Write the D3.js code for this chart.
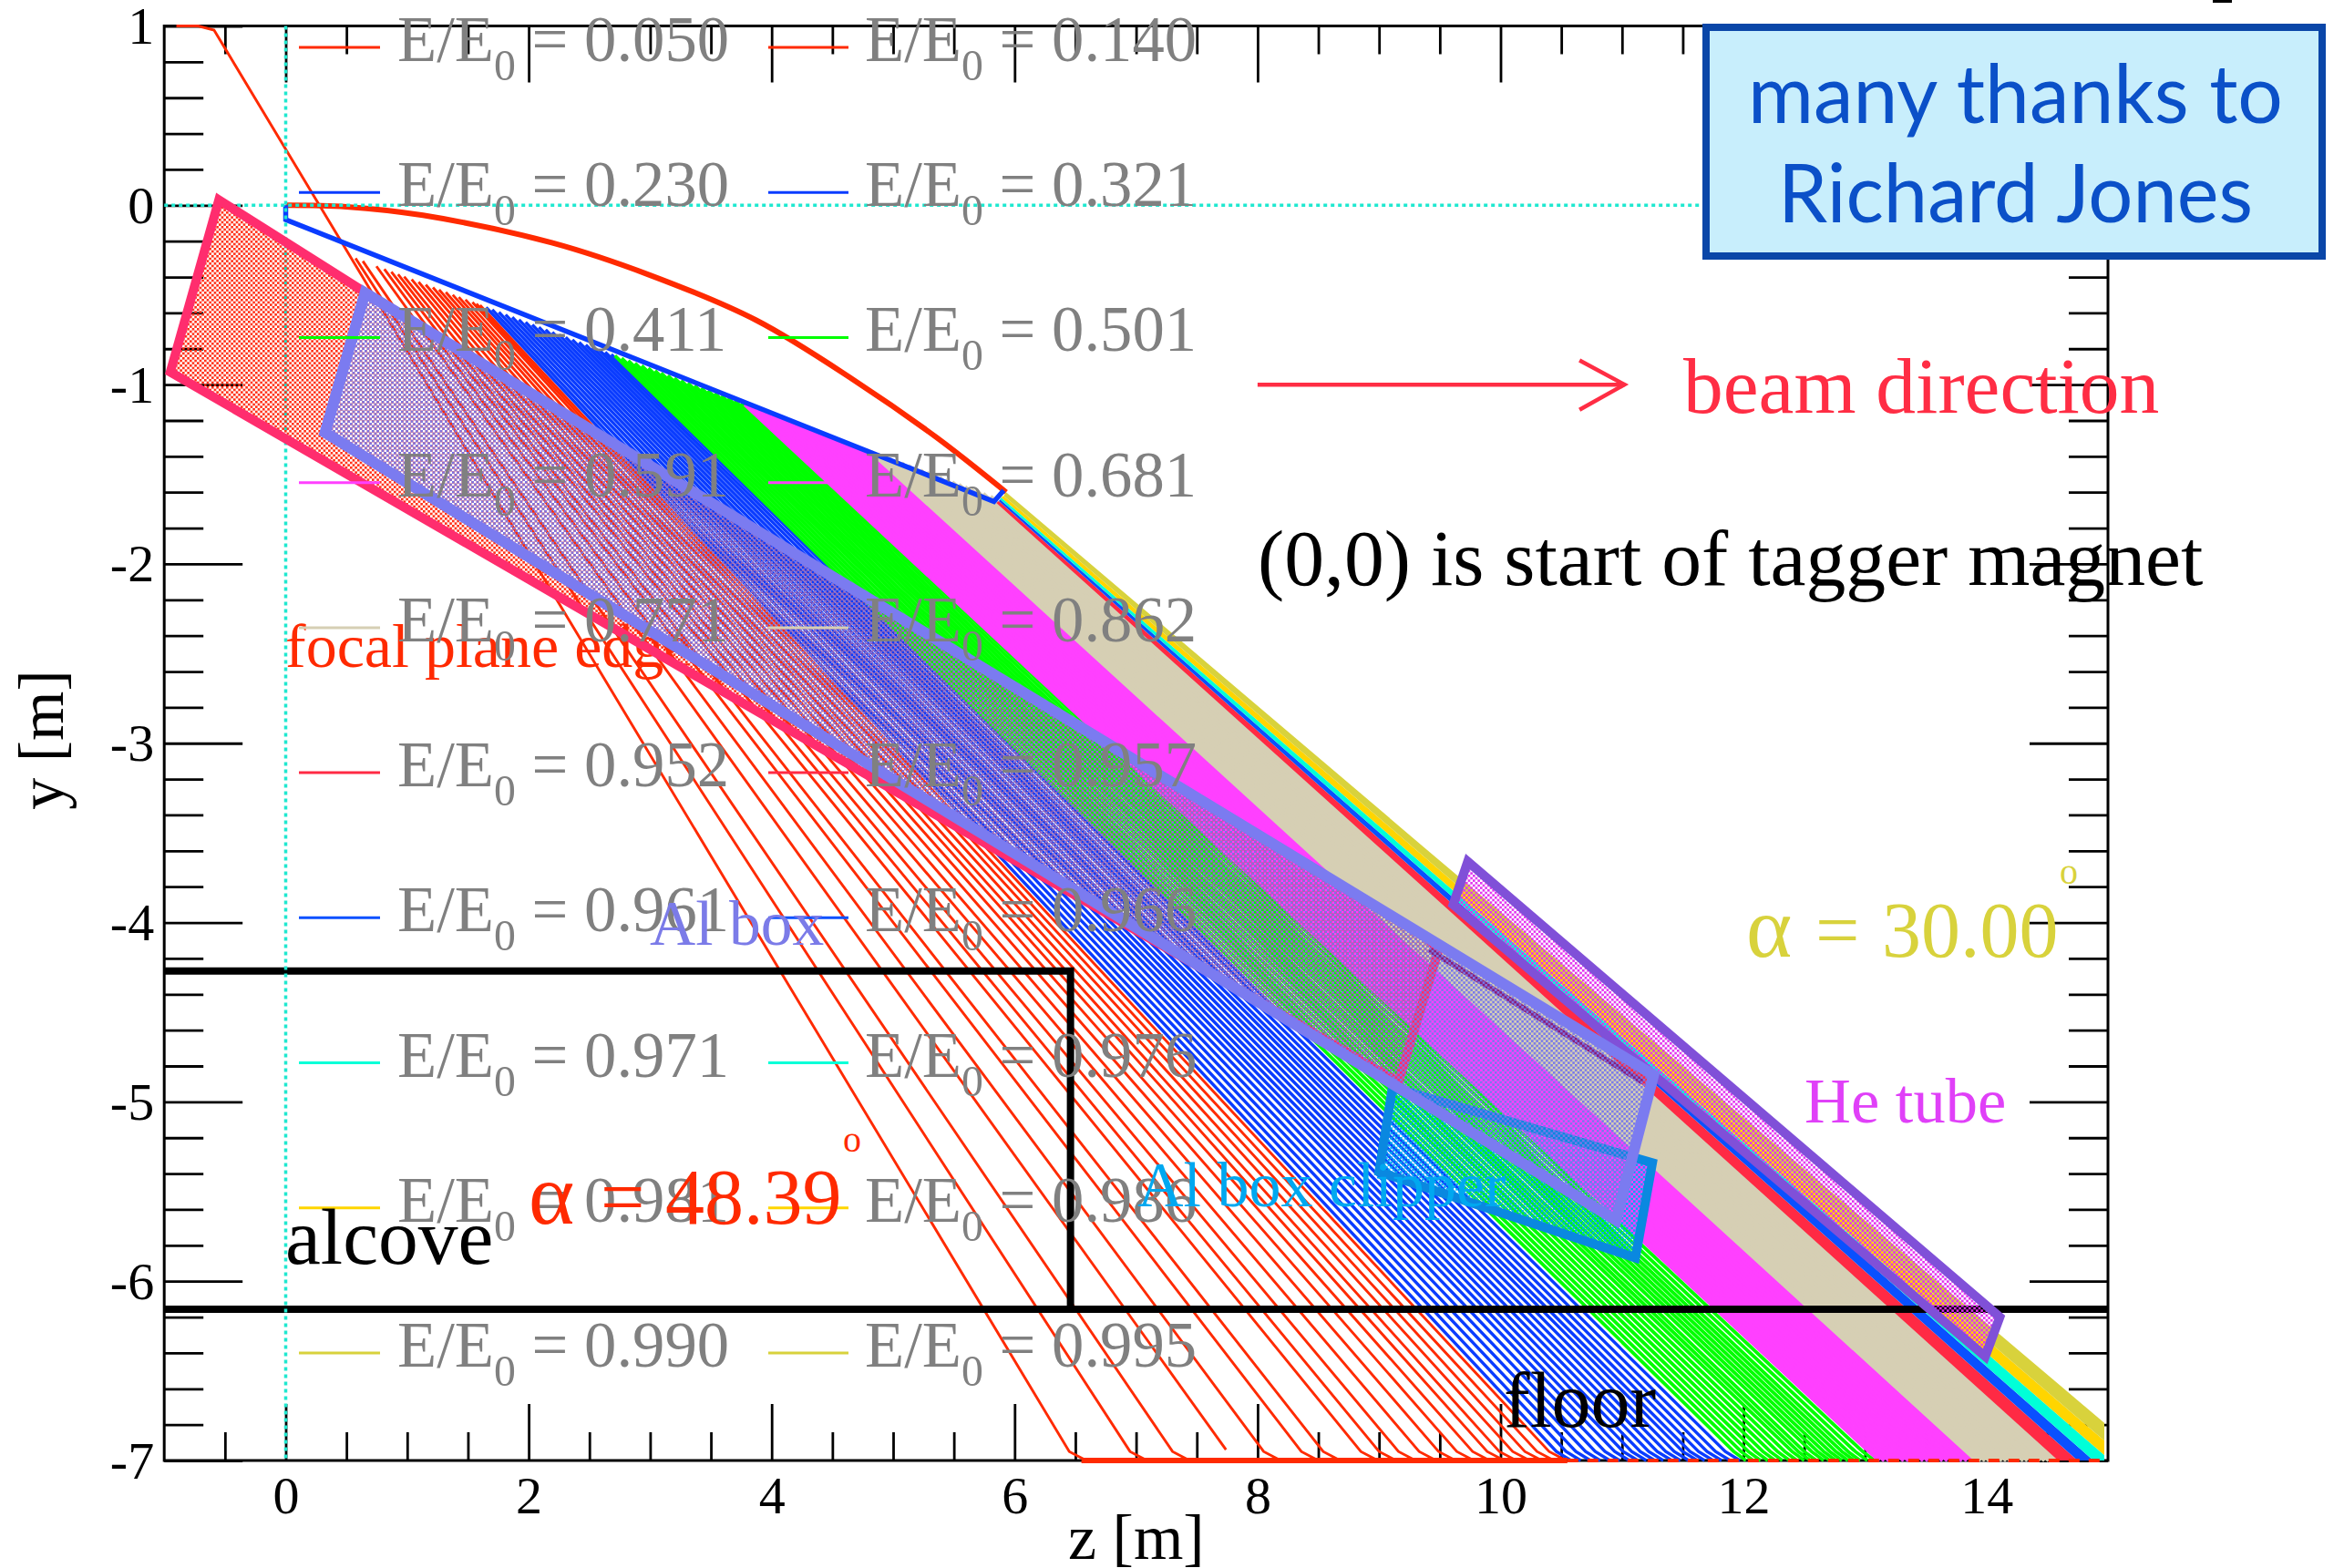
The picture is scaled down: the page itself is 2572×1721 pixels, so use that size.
<!DOCTYPE html>
<html><head><meta charset="utf-8">
<script src="https://cdn.jsdelivr.net/npm/d3@7"></script>
<style>html,body{margin:0;padding:0;background:#fff}svg{display:block}text{white-space:pre}</style>
</head><body><div id="chart"></div>
<script>
// ---- data (z and y in metres) ----
const xMajor=[0,2,4,6,8,10,12,14];
const xMinor=[-0.5,0.5,1,1.5,2.5,3,3.5,4.5,5,5.5,6.5,7,7.5,8.5,9,9.5,10.5,11,11.5,12.5,13,13.5,14.5];
const yMajor=[1,0,-1,-2,-3,-4,-5,-6,-7];
const yMinor=[0.8,0.6,0.4,0.2,-0.2,-0.4,-0.6,-0.8,-1.2,-1.4,-1.6,-1.8,-2.2,-2.4,-2.6,-2.8,-3.2,-3.4,-3.6,-3.8,-4.2,-4.4,-4.6,-4.8,-5.2,-5.4,-5.6,-5.8,-6.2,-6.4,-6.6,-6.8];

const legendValues=['0.050','0.140','0.230','0.321','0.411','0.501','0.591','0.681','0.771','0.862','0.952','0.957','0.961','0.966','0.971','0.976','0.981','0.986','0.990','0.995'];
const legendColors=['#ff2a00','#ff2a00','#0a3cff','#0a3cff','#00ff00','#00ff00','#ff40ff','#ff40ff','#d6cfb4','#d6cfb4','#ff2a44','#ff2a44','#0a50ff','#0a50ff','#00ffd8','#00ffd8','#ffd500','#ffd500','#d8d23c','#d8d23c'];

const exitRim=[[0.575,-0.296],[5.8,-1.625]];
const firstRay=[[-0.9,1],[-0.72,1],[-0.59,0.977],[6.45,-6.95],[6.59,-7]];
const stubRay=[[0.747,-0.34],[7.74,-6.94]];

const redTops=[0.575,0.635,0.812,0.87,0.925,0.975,1.037,1.094,1.153,1.212,1.263,1.318,1.375,1.425,1.48,1.537,1.57,1.6];
const redFloors=[7.09,7.44,8.19,8.5,8.68,8.99,9.14,9.3,9.47,9.63,9.78,9.91,10.03,10.13,10.24,10.34,10.44,10.54];
const blueTops=[1.65,1.70,1.755,1.81,1.865,1.92,1.975,2.03,2.085,2.14,2.195,2.25,2.305,2.36,2.415,2.47,2.525,2.58,2.63,2.68];
const blueFloors=[10.58,10.66,10.74,10.82,10.9,10.98,11.06,11.13,11.2,11.27,11.34,11.41,11.48,11.55,11.62,11.68,11.75,11.82,11.89,11.97];
const greenTops=[2.71,2.765,2.82,2.875,2.93,2.985,3.04,3.09,3.145,3.2,3.255,3.31,3.365,3.42,3.475,3.53,3.585,3.64,3.695,3.75];
const greenFloors=[12.02,12.08,12.14,12.2,12.26,12.32,12.38,12.44,12.5,12.55,12.6,12.66,12.71,12.76,12.81,12.86,12.91,12.96,13.02,13.08];
const magentaTops=[3.78,3.83,3.885,3.94,3.99,4.045,4.1,4.15,4.205,4.26,4.31,4.365,4.42,4.47,4.525,4.58,4.63,4.68,4.73,4.78];
const magentaFloors=[13.12,13.16,13.2,13.24,13.28,13.32,13.36,13.4,13.44,13.48,13.52,13.56,13.6,13.64,13.68,13.72,13.76,13.8,13.84,13.88];
const tanTops=[4.82,4.87,4.92,4.97,5.02,5.07,5.125,5.175,5.225,5.275,5.33,5.38,5.43,5.485,5.54,5.59,5.64,5.69,5.74,5.8];
const tanFloors=[13.92,13.955,13.99,14.025,14.06,14.095,14.13,14.165,14.2,14.235,14.27,14.305,14.34,14.375,14.41,14.445,14.48,14.515,14.55,14.59];

const crimsonBand=[[5.85,-1.66],[5.87,-1.65],[9.08,-3.58],[14.75,-7],[14.59,-7],[9.0,-3.58]];
const blue2Band=[[5.87,-1.65],[5.88,-1.64],[9.14,-3.58],[14.88,-7],[14.75,-7],[9.08,-3.58]];
const cyanBand=[[5.88,-1.64],[5.89,-1.63],[9.2,-3.58],[14.97,-6.97],[14.97,-7],[14.88,-7],[9.14,-3.58]];
const yellowBand=[[5.89,-1.63],[5.91,-1.62],[9.28,-3.58],[14.97,-6.89],[14.97,-6.97],[9.2,-3.58]];
const khakiBand=[[5.91,-1.62],[5.93,-1.6],[9.37,-3.58],[14.97,-6.79],[14.97,-6.89],[9.28,-3.58]];

const magnetArc=[[0,0],[0.5,-0.008],[1.13,-0.056],[2.19,-0.209],[3.0,-0.39],[3.87,-0.64],[4.68,-0.976],[5.36,-1.296],[5.93,-1.6]];
const exitEdge=[[0,0],[0,-0.08],[5.83,-1.652],[5.91,-1.59]];

const alcoveLine=[[-1,-4.27],[6.46,-4.27],[6.46,-6.157]];
const floorLine=[[-1,-6.157],[15,-6.157]];
const floorRed=[[6.55,-7],[10.55,-7]];
const floorRedPatches=[[10.55,-7],[14.95,-7]];
const zeroH=[[-1,0],[15,0]];
const zeroV=[[0,1],[0,-7]];
const arrowShaft=[[8,-1],[11.02,-1]];
const arrowHead=[[10.65,-0.865],[11.02,-1],[10.65,-1.14]];

const pinkBox=[[-0.55,0.03],[0.7,-0.505],[9.4,-4.09],[9.49,-4.15],[9.16,-4.89],[-0.95,-0.93]];
const pinkExtension=[[9.41,-4.15],[11.17,-4.89]];
const clipperBox=[[9.11,-4.92],[11.25,-5.34],[11.11,-5.87],[9.0,-5.39]];
const heTube=[[9.73,-3.66],[14.11,-6.2],[13.99,-6.42],[9.61,-3.9]];
const alBox=[[0.653,-0.488],[11.26,-4.85],[10.95,-5.66],[0.324,-1.268]];

// ---- layout ----
const W=2572,H=1721,L=180.2,R=2313,T=28.5,B=1603;
const x=d3.scaleLinear().domain([-1,15]).range([L,R]);
const y=d3.scaleLinear().domain([-7,1]).range([B,T]);
const rimY=d3.scaleLinear().domain(exitRim.map(d=>d[0])).range(exitRim.map(d=>d[1]));
const line=d3.line().x(d=>x(d[0])).y(d=>y(d[1]));
const SERIF='"Liberation Serif","Times New Roman",serif';

const svg=d3.select('#chart').append('svg').attr('width',W).attr('height',H).attr('viewBox',`0 0 ${W} ${H}`).style('background','#fff');
const defs=svg.append('defs');
defs.append('clipPath').attr('id','plot').append('rect').attr('x',L).attr('y',T-3).attr('width',R-L).attr('height',B-T+6);
function checker(id,color){
  const s=16/3,h=s*0.48;
  const p=defs.append('pattern').attr('id',id).attr('patternUnits','userSpaceOnUse').attr('width',s).attr('height',s);
  p.append('rect').attr('width',h).attr('height',h).attr('fill',color);
  p.append('rect').attr('x',s/2).attr('y',s/2).attr('width',h).attr('height',h).attr('fill',color);
}
checker('chkRed','#ff2a10');checker('chkAl','#7878ea');checker('chkClip','#00a8f0');checker('chkHe','#e030f0');

// axes
const intLabel=d=>String(d);
function styleAxis(g){g.select('.domain').remove();g.selectAll('line').attr('stroke','#000').attr('stroke-width',2.8);
  g.selectAll('text').attr('font-family',SERIF).attr('font-size',58).attr('fill','#000');}
svg.append('g').attr('transform',`translate(0,${B})`).call(d3.axisBottom(x).tickValues(xMajor).tickSize(-62).tickPadding(0).tickFormat(intLabel)).call(styleAxis).selectAll('text').attr('y',58).attr('dy',0);
svg.append('g').attr('transform',`translate(0,${B})`).call(d3.axisBottom(x).tickValues(xMinor).tickSize(-31).tickFormat('')).call(styleAxis);
svg.append('g').attr('transform',`translate(0,${T})`).call(d3.axisTop(x).tickValues(xMajor).tickSize(-62).tickFormat('')).call(styleAxis);
svg.append('g').attr('transform',`translate(0,${T})`).call(d3.axisTop(x).tickValues(xMinor).tickSize(-31).tickFormat('')).call(styleAxis);
svg.append('g').attr('transform',`translate(${L},0)`).call(d3.axisLeft(y).tickValues(yMajor).tickSize(-86).tickFormat(intLabel)).call(styleAxis).selectAll('text').attr('x',-11).attr('dy',19);
svg.append('g').attr('transform',`translate(${L},0)`).call(d3.axisLeft(y).tickValues(yMinor).tickSize(-43).tickFormat('')).call(styleAxis);
svg.append('g').attr('transform',`translate(${R},0)`).call(d3.axisRight(y).tickValues(yMajor).tickSize(-86).tickFormat('')).call(styleAxis);
svg.append('g').attr('transform',`translate(${R},0)`).call(d3.axisRight(y).tickValues(yMinor).tickSize(-43).tickFormat('')).call(styleAxis);
svg.append('rect').attr('x',L).attr('y',T).attr('width',R-L).attr('height',B-T).attr('fill','none').attr('stroke','#000').attr('stroke-width',3);

function txt(s,px,py,size,color,o={}){
  const t=svg.append('text').attr('x',px).attr('y',py).attr('font-family',o.family||SERIF).attr('font-size',size).attr('fill',color).text(s);
  if(o.anchor)t.attr('text-anchor',o.anchor);
  if(o.len)t.attr('textLength',o.len).attr('lengthAdjust','spacingAndGlyphs');
  if(o.rot)t.attr('transform',`rotate(${o.rot} ${px} ${py})`);
  return t;
}
txt('z [m]',1172,1711,70,'#000');
txt('y [m]',69,812,70,'#000',{anchor:'middle',rot:-90});

// trajectories
const plot=svg.append('g').attr('clip-path','url(#plot)');
function rays(tops,floors,color,w,bend){
  plot.append('g').selectAll('path').data(d3.zip(tops,floors)).join('path')
    .attr('d',d=>line([[d[0],rimY(d[0])],[d[1]-bend,-6.95],[d[1],-7]]))
    .attr('fill','none').attr('stroke',color).attr('stroke-width',w);
}
plot.append('path').attr('d',line(firstRay)).attr('fill','none').attr('stroke','#ff2a00').attr('stroke-width',2.9);
plot.append('path').attr('d',line(stubRay)).attr('fill','none').attr('stroke','#ff2a00').attr('stroke-width',2.9);
rays(redTops,redFloors,'#ff2a00',2.9,0.14);
rays(blueTops,blueFloors,'#0a3cff',3.4,0.12);
rays(greenTops,greenFloors,'#00ff00',3.8,0.1);
rays(magentaTops,magentaFloors,'#ff40ff',4.4,0.085);
rays(tanTops,tanFloors,'#d6cfb4',4.8,0.08);
[[crimsonBand,'#ff2a44'],[blue2Band,'#0a50ff'],[cyanBand,'#00ffd8'],[yellowBand,'#ffd500'],[khakiBand,'#d8d23c']].forEach(b=>{
  plot.append('path').attr('d',line(b[0])+'Z').attr('fill',b[1]);
});
plot.append('path').attr('d',line(floorRed)).attr('stroke','#ff2a00').attr('stroke-width',6).attr('fill','none');
plot.append('path').attr('d',line(floorRedPatches)).attr('stroke','#ff2a00').attr('stroke-width',4).attr('stroke-dasharray','12 10').attr('fill','none');

svg.append('path').attr('d',d3.line().x(d=>x(d[0])).y(d=>y(d[1])).curve(d3.curveCatmullRom)(magnetArc)).attr('fill','none').attr('stroke','#ff2a00').attr('stroke-width',6);
svg.append('path').attr('d',line(exitEdge)).attr('fill','none').attr('stroke','#0a3cff').attr('stroke-width',5.5);

// floor and alcove
svg.append('path').attr('d',line(alcoveLine)).attr('fill','none').attr('stroke','#000').attr('stroke-width',8);
svg.append('path').attr('d',line(floorLine)).attr('fill','none').attr('stroke','#000').attr('stroke-width',8);

// zero lines
[zeroH,zeroV].forEach(d=>svg.append('path').attr('d',line(d)).attr('fill','none').attr('stroke','#1fe8d0').attr('stroke-width',3.5).attr('stroke-dasharray','4 4'));

txt('focal plane edge',313,732,68,'#ff2a00');

// boxes
function box(pts,pat,color,w){
  svg.append('path').attr('d',line(pts)+'Z').attr('fill',`url(#${pat})`).attr('stroke',color).attr('stroke-width',w).attr('stroke-linejoin','miter');
}
box(pinkBox,'chkRed','#ff2d6e',10);
svg.append('path').attr('d',line(pinkExtension)).attr('stroke','#8a1f78').attr('stroke-width',6).attr('fill','none');
box(clipperBox,'chkClip','#0a88e0',10);
box(heTube,'chkHe','#8050d8',10);
box(alBox,'chkAl','#7b7bf0',12);

// legend
const rowY=d3.scaleLinear().domain([0,9]).range([52,1485]);
const colX=[[328,417,436],[843,931,949]];
legendValues.forEach((v,i)=>{
  const c=colX[i%2],r=Math.floor(i/2),yy=rowY(r);
  svg.append('line').attr('x1',c[0]).attr('x2',c[1]).attr('y1',yy).attr('y2',yy).attr('stroke',legendColors[i]).attr('stroke-width',3);
  const t=svg.append('text').attr('transform',`translate(${c[2]},${yy+15}) scale(0.975,1)`).attr('font-family',SERIF).attr('font-size',72.5).attr('fill','#808080');
  t.append('tspan').text('E/E');
  t.append('tspan').attr('font-size',49).attr('dy',21).text('0');
  t.append('tspan').attr('dy',-21).text(' = '+v);
});

// annotations
svg.append('path').attr('d',line(arrowShaft)).attr('stroke','#ff2d44').attr('stroke-width',4.5).attr('fill','none');
svg.append('path').attr('d',line(arrowHead)).attr('stroke','#ff2d44').attr('stroke-width',4.5).attr('fill','none');
txt('beam direction',1847,452.5,87.5,'#ff2d44');
txt('(0,0) is start of tagger magnet',1380,642,87.7,'#000');
txt('alcove',313,1387,87.5,'#000');
txt('floor',1650,1566,86,'#000');
txt('Al box',713,1037,69.5,'#7b7be8');
txt('Al box clipper',1248,1324,70,'#00a8f0');
txt('He tube',1980,1232,70.5,'#e040f8');
function alpha(val,xs,py,color){
  const t=svg.append('text').attr('y',py).attr('font-family',SERIF).attr('font-size',86).attr('fill',color);
  t.append('tspan').attr('x',xs[0]).attr('font-size',96).text('α');
  t.append('tspan').attr('x',xs[1]).text('=');
  t.append('tspan').attr('x',xs[2]).text(val);
}
alpha('30.00',[1916,1992,2065],1049.5,'#d8d23c');
txt('o',2260,969.5,40,'#d8d23c');
alpha('48.39',[580,659,730],1343,'#ff2a00');
txt('o',925,1263.5,40,'#ff2a00');

// thanks box
svg.append('rect').attr('x',1872).attr('y',30).attr('width',676).attr('height',251).attr('fill','#c8eefc').attr('stroke','#0a46a8').attr('stroke-width',8);
txt('many thanks to',1918,135,90,'#0b50c8',{family:'Lato',len:587});
txt('Richard Jones',1951,244,90,'#0b50c8',{family:'Lato',len:521});
svg.append('rect').attr('x',2428).attr('y',0).attr('width',21).attr('height',3).attr('fill','#000');
</script></body></html>
